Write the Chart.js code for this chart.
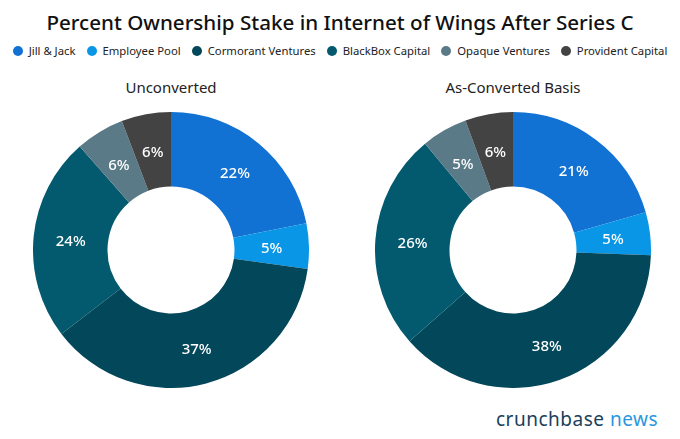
<!DOCTYPE html>
<html>
<head>
<meta charset="utf-8">
<script src="https://cdn.jsdelivr.net/npm/chart.js@4.4.0/dist/chart.umd.min.js"></script>
<style>
  body { margin: 0; width: 680px; height: 439px; background: #fff; position: relative; overflow: hidden; font-family: 'Noto Sans', sans-serif; }
  #title { position: absolute; top: 8px; left: 0; width: 680px; text-align: center; font-size: 20.6px; font-weight: 500; color: #111; }
  #legend { position: absolute; top: 43px; left: 0; width: 680px; text-align: center; font-size: 11.3px; color: #222; white-space: nowrap; }
  #legend span.item { margin: 0 5.5px; }
  #legend span.dot { display: inline-block; width: 10px; height: 10px; border-radius: 50%; vertical-align: -1px; margin-right: 6px; }
  .sub { position: absolute; top: 77px; width: 342px; text-align: center; font-size: 15px; color: #222; }
  .box { position: absolute; top: 112px; width: 276px; height: 276px; }
  #brand { position: absolute; left: 496px; top: 406px; font-size: 19px; color: #1b3f5c; letter-spacing: 0.5px; }
  #brand b { font-weight: 400; color: #2a96e0; }
</style>
</head>
<body>
<div id="title">Percent Ownership Stake in Internet of Wings After Series C</div>
<div id="legend"></div>
<div class="sub" style="left:0">Unconverted</div>
<div class="sub" style="left:342px">As-Converted Basis</div>
<div class="box" style="left:33px"><canvas id="chartLeft"></canvas></div>
<div class="box" style="left:375px"><canvas id="chartRight"></canvas></div>
<div id="brand">crunchbase <b>news</b></div>
<script>
const holders = ['Jill & Jack', 'Employee Pool', 'Cormorant Ventures', 'BlackBox Capital', 'Opaque Ventures', 'Provident Capital'];
const unconverted = [21.9, 5.3, 37.4, 23.9, 5.7, 5.8];
const asConverted = [20.6, 5.0, 37.9, 25.5, 5.4, 5.6];
const colors = ['#1272d3', '#0a96e6', '#03475a', '#035a6f', '#5b7a87', '#434343'];

const legend = document.getElementById('legend');
legend.innerHTML = '';
for (let i = 0; i < holders.length; i++) {
  legend.innerHTML += `<span class="item"><span class="dot" style="background:${colors[i]}"></span>${holders[i]}</span>`;
}

// white percent labels in the middle of each slice
const sliceLabels = {
  id: 'sliceLabels',
  afterDatasetsDraw(chart) {
    const c = chart.ctx;
    const meta = chart.getDatasetMeta(0);
    const values = chart.data.datasets[0].data;
    c.save();
    c.fillStyle = '#fff';
    c.font = '500 15px "Noto Sans"';
    c.textAlign = 'center';
    c.textBaseline = 'middle';
    meta.data.forEach((arc, i) => {
      const p = arc.tooltipPosition();
      c.fillText(Math.round(values[i]) + '%', p.x, p.y + 2);
    });
    c.restore();
  }
};

function makeChart(el, data) {
  return new Chart(document.getElementById(el), {
    type: 'doughnut',
    data: {
      labels: holders,
      datasets: [{
        data: data,
        backgroundColor: colors,
        borderWidth: 0
      }]
    },
    options: {
      responsive: true,
      maintainAspectRatio: false,
      animation: false,
      cutout: '46%',
      layout: { padding: 0 },
      plugins: {
        legend: { display: false },
        tooltip: { enabled: false }
      }
    },
    plugins: [sliceLabels]
  });
}

makeChart('chartLeft', unconverted);
makeChart('chartRight', asConverted);
</script>
</body>
</html>
